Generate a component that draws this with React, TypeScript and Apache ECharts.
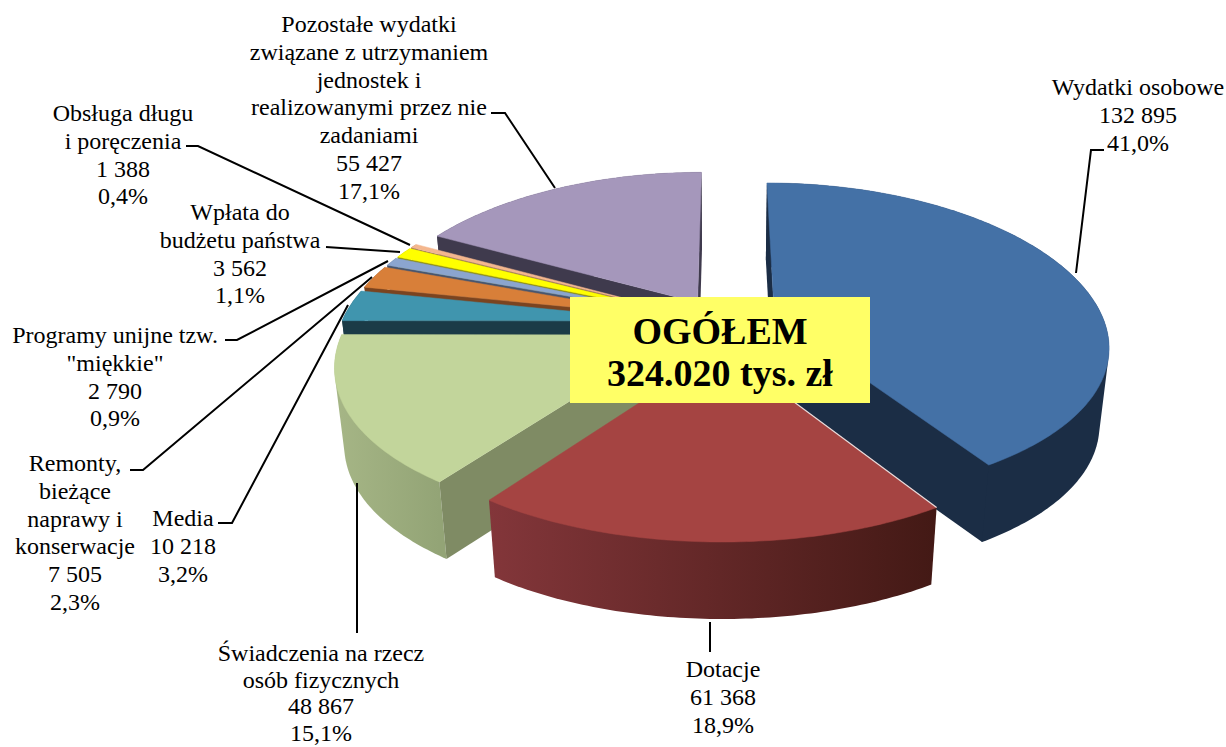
import React, { useEffect, useRef } from "react";
import * as echarts from "echarts";

const names = [
  "Wydatki osobowe",
  "Dotacje",
  "Świadczenia na rzecz\nosób fizycznych",
  "Media",
  "Remonty,\nbieżące\nnaprawy i\nkonserwacje",
  "Programy unijne tzw.\n\"miękkie\"",
  "Wpłata do\nbudżetu państwa",
  "Obsługa długu\ni poręczenia",
  "Pozostałe wydatki\nzwiązane z utrzymaniem\njednostek i\nrealizowanymi przez nie\nzadaniami",
];
const values = [132895, 61368, 48867, 10218, 7505, 2790, 3562, 1388, 55427];
const totalTitle = "OGÓŁEM\n324.020 tys. zł";

const topColors = ["#4471A6", "#A54442", "#C2D59B", "#4095AE", "#D87F39", "#8BA5CF", "#FFFF00", "#F4B78E", "#A597BB"];
const sideColors = ["#1B2D45", "#6E2D2B", "#7F8B64", "#1B3B47", "#7A4420", "#47566F", "#8A8A10", "#8A6A52", "#3F3A4D"];
const wallStops: string[][] = [
  ["#1B2D45", "#1B2D45"],
  ["#83363A", "#431915"],
  ["#A6B686", "#93A476"],
  ["#1B3B47", "#1B3B47"],
  ["#7A4420", "#7A4420"],
  ["#47566F", "#47566F"],
  ["#8A8A10", "#8A8A10"],
  ["#8A6A52", "#8A6A52"],
  ["#3F3A4D", "#3F3A4D"],
];
const drawOrder = [8, 7, 6, 5, 4, 3, 2, 0, 1];

const labelCenters = [
  [1138, 73], [723, 655], [321, 640], [183, 504], [75, 449], [115, 321], [240, 198], [123, 99], [369, 10],
];
const leaders = [
  [[1076, 273], [1091, 150], [1104, 150]],
  [[710, 622], [710, 652]],
  [[357, 483], [357, 633]],
  [[348, 305], [232, 523], [218, 523]],
  [[372, 277], [143, 470], [130, 470]],
  [[388, 261], [237, 340], [225, 340]],
  [[400, 252], [326, 247]],
  [[410, 245], [198, 146], [186, 146]],
  [[555, 188], [505, 113], [491, 113]],
];

const CX = 724, CY = 323.5, A = 330.5, B = 155.6, KX = 0.175, KY = 0.15, DEPTH = 77, SHRINK = 0.975, EXPLODE = 0.16;
const SERIF = "'Liberation Serif', 'Times New Roman', serif";

const total = values.reduce((a, b) => a + b, 0);
const fmtValue = (v: number) => String(v).replace(/\B(?=(\d{3})+$)/g, " ");
const fmtPct = (v: number) => ((v / total) * 100).toFixed(1).replace(".", ",") + "%";

function project(X: number, Y: number, bottom: boolean): number[] {
  const px = 1 / (1 + KX * Y);
  const py = 1 / (1 + KY * Y);
  return [CX + A * X * px * (bottom ? SHRINK : 1), CY - B * Y * py + (bottom ? DEPTH : 0)];
}

function area(pts: number[][]): number {
  let s = 0;
  pts.forEach((a, i) => {
    const b = pts[(i + 1) % pts.length];
    s += a[0] * b[1] - b[0] * a[1];
  });
  return s / 2;
}

function hull(points: number[][]): number[][] {
  const pts = points.slice().sort((a, b) => a[0] - b[0] || a[1] - b[1]);
  const cross = (o: number[], a: number[], b: number[]) =>
    (a[0] - o[0]) * (b[1] - o[1]) - (a[1] - o[1]) * (b[0] - o[0]);
  const lower: number[][] = [];
  for (const p of pts) {
    while (lower.length >= 2 && cross(lower[lower.length - 2], lower[lower.length - 1], p) <= 0) lower.pop();
    lower.push(p);
  }
  const upper: number[][] = [];
  for (const p of pts.slice().reverse()) {
    while (upper.length >= 2 && cross(upper[upper.length - 2], upper[upper.length - 1], p) <= 0) upper.pop();
    upper.push(p);
  }
  return lower.slice(0, -1).concat(upper.slice(0, -1));
}

function renderSlice(params: any) {
  const idx = drawOrder[params.dataIndex];
  let before = 0;
  for (let i = 0; i < idx; i++) before += values[i];
  const t0 = (before / total) * Math.PI * 2;
  const t1 = ((before + values[idx]) / total) * Math.PI * 2;
  const mid = (t0 + t1) / 2;
  const ox = EXPLODE * Math.sin(mid);
  const oy = EXPLODE * Math.cos(mid);
  const steps = Math.max(4, Math.ceil((t1 - t0) / 0.015));
  const arcTop: number[][] = [];
  const arcBot: number[][] = [];
  for (let s = 0; s <= steps; s++) {
    const t = t0 + ((t1 - t0) * s) / steps;
    arcTop.push(project(ox + Math.sin(t), oy + Math.cos(t), false));
    arcBot.push(project(ox + Math.sin(t), oy + Math.cos(t), true));
  }
  const apexTop = project(ox, oy, false);
  const apexBot = project(ox, oy, true);
  const children: any[] = [];
  const xs = arcTop.map((p) => p[0]);
  const fill = new echarts.graphic.LinearGradient(
    Math.min(...xs), 0, Math.max(...xs), 0,
    [{ offset: 0, color: wallStops[idx][0] }, { offset: 1, color: wallStops[idx][1] }],
    true
  );
  children.push({
    type: "polygon",
    shape: { points: hull([...arcTop, ...arcBot]) },
    style: { fill },
  });
  const startQuad = [apexTop, arcTop[0], arcBot[0], apexBot];
  const endQuad = [apexTop, arcTop[steps], arcBot[steps], apexBot];
  if (area(startQuad) < 0) {
    children.push({ type: "polygon", shape: { points: startQuad }, style: { fill: sideColors[idx] } });
  }
  if (area(endQuad) > 0) {
    children.push({ type: "polygon", shape: { points: endQuad }, style: { fill: sideColors[idx] } });
  }
  children.push({
    type: "polygon",
    shape: { points: [apexTop, ...arcTop] },
    style: { fill: topColors[idx], stroke: topColors[idx], lineWidth: 0.5 },
  });
  if (idx === 1) {
    children.push({
      type: "line",
      shape: { x1: apexTop[0], y1: apexTop[1], x2: arcTop[0][0], y2: arcTop[0][1] },
      style: { stroke: "#E8DCDC", lineWidth: 1.2 },
    });
  }
  return { type: "group", children };
}

export default function App() {
  const ref = useRef<HTMLDivElement>(null);
  useEffect(() => {
    document.body.style.margin = "0";
    const chart = echarts.init(ref.current!, undefined, { renderer: "svg" });
    const labelEls = names.map((n, i) => ({
      type: "text",
      x: labelCenters[i][0],
      y: labelCenters[i][1],
      z: 20,
      style: {
        text: `${n}\n${fmtValue(values[i])}\n${fmtPct(values[i])}`,
        font: `24px ${SERIF}`,
        lineHeight: i === 2 ? 26.5 : 27.8,
        fill: "#000",
        textAlign: "center",
        textVerticalAlign: "top",
      },
    }));
    const leaderEls = leaders.map((pts) => ({
      type: "polyline",
      z: 15,
      shape: { points: pts },
      style: { stroke: "#000", lineWidth: 2, fill: "none" },
    }));
    chart.setOption({
      animation: false,
      backgroundColor: "#fff",
      series: [
        {
          type: "custom",
          coordinateSystem: "none",
          silent: true,
          renderItem: renderSlice,
          data: drawOrder.map((i) => values[i]),
          z: 2,
        },
      ],
      graphic: [
        ...leaderEls,
        ...labelEls,
        { type: "rect", z: 30, shape: { x: 570, y: 297, width: 300, height: 106 }, style: { fill: "#FFFF66" } },
        {
          type: "text",
          z: 31,
          x: 720,
          y: 352,
          style: {
            text: totalTitle,
            font: `bold 38px ${SERIF}`,
            lineHeight: 42,
            fill: "#000",
            textAlign: "center",
            textVerticalAlign: "middle",
          },
        },
      ],
    });
    return () => chart.dispose();
  }, []);
  return <div ref={ref} style={{ position: "absolute", left: 0, top: 0, width: 1226, height: 747 }} />;
}
